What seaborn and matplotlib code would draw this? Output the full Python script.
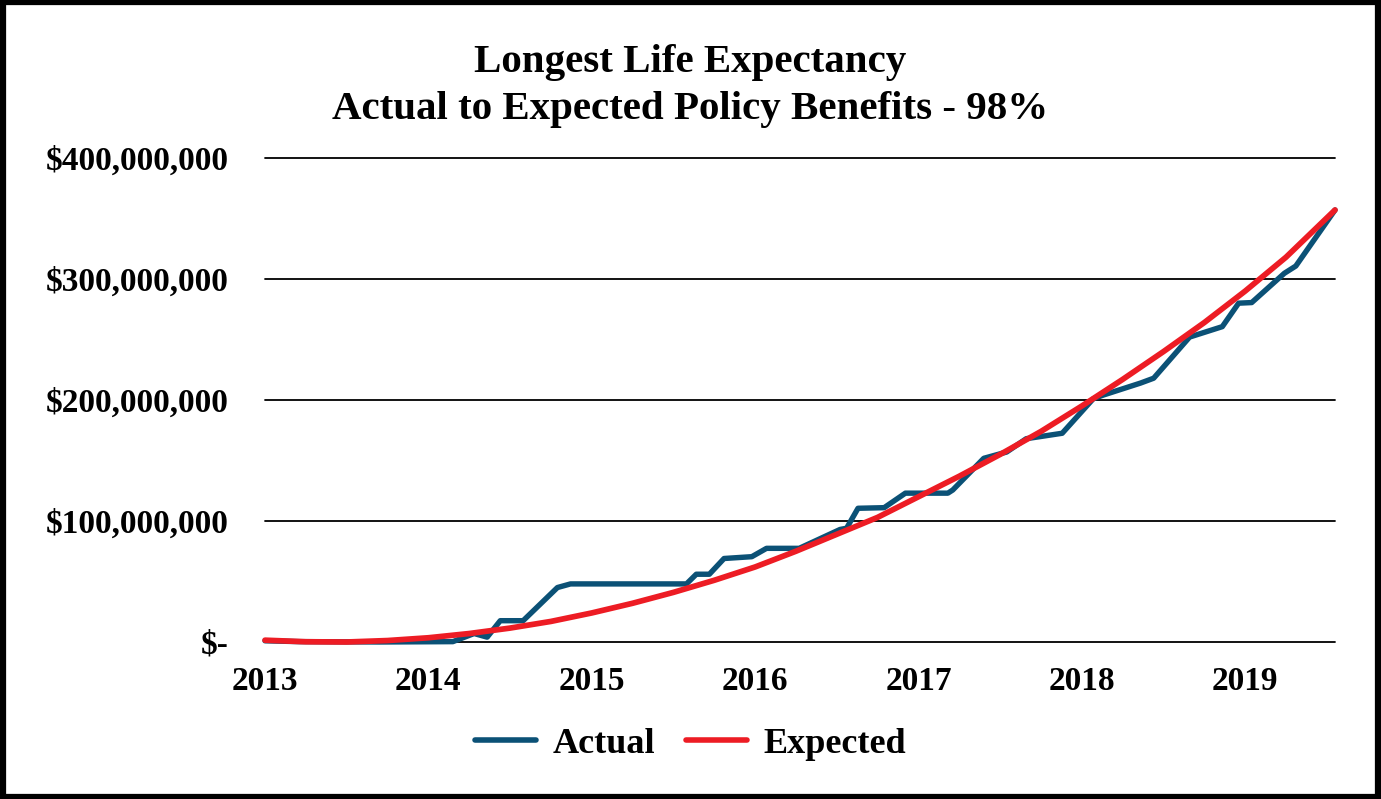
import matplotlib
matplotlib.use("Agg")
import matplotlib.pyplot as plt
import matplotlib.patches as mpatches
import seaborn as sns
import pandas as pd
from matplotlib.ticker import FuncFormatter

# ---- data (values in $ millions) ----
actual_years = [2013.00, 2013.21, 2013.70, 2014.15, 2014.28, 2014.36, 2014.44, 2014.58,
                2014.79, 2014.87, 2015.58, 2015.64, 2015.72, 2015.81, 2015.98, 2016.07,
                2016.27, 2016.52, 2016.56, 2016.63, 2016.79, 2016.92, 2017.18, 2017.21,
                2017.40, 2017.54, 2017.66, 2017.88, 2018.07, 2018.13, 2018.36, 2018.44,
                2018.66, 2018.86, 2018.96, 2019.04, 2019.24, 2019.31, 2019.55]
actual_vals = [1.0, 0.3, 0.0, 0.3, 7.0, 4.0, 17.6, 17.6,
               45.0, 48.0, 48.0, 56.0, 56.0, 69.0, 70.5, 77.4,
               77.4, 93.0, 94.0, 110.5, 111.0, 123.0, 123.0, 125.6,
               151.8, 157.0, 168.0, 172.5, 201.0, 204.0, 214.0, 218.0,
               252.0, 260.6, 280.0, 280.5, 304.7, 310.7, 357.0]

expected_years = [2013.00, 2013.25, 2013.50, 2013.75, 2014.00, 2014.25, 2014.50, 2014.75,
                  2015.00, 2015.25, 2015.50, 2015.75, 2016.00, 2016.25, 2016.50, 2016.75,
                  2017.00, 2017.25, 2017.50, 2017.75, 2018.00, 2018.25, 2018.50, 2018.75,
                  2019.00, 2019.25, 2019.55]
expected_vals = [1.5, 0.2, 0.0, 1.2, 3.5, 7.0, 11.5, 17.0,
                 24.0, 32.0, 41.0, 51.0, 62.0, 75.0, 89.0, 103.0,
                 120.0, 137.0, 155.0, 174.0, 195.0, 217.0, 240.0, 264.0,
                 290.0, 318.0, 357.0]

year_ticks = [2013, 2014, 2015, 2016, 2017, 2018, 2019]
y_ticks = [0, 100, 200, 300, 400]
series_names = ["Actual", "Expected"]
colors = ["#0b5176", "#ed1c24"]

title_lines = ["Longest Life Expectancy", "Actual to Expected Policy Benefits - 98%"]

df = pd.concat([
    pd.DataFrame({"year": actual_years, "value": actual_vals, "series": "Actual"}),
    pd.DataFrame({"year": expected_years, "value": expected_vals, "series": "Expected"}),
], ignore_index=True)

sns.set_theme(style="white")
plt.rcParams["font.family"] = ["Liberation Serif", "DejaVu Serif"]
plt.rcParams["font.weight"] = "bold"
plt.rcParams["text.color"] = "black"
plt.rcParams["xtick.color"] = "black"
plt.rcParams["ytick.color"] = "black"

fig = plt.figure(figsize=(13.81, 7.99), dpi=100)
ax = fig.add_axes([0.1919, 0.1965, 0.7748, 0.6058])

sns.lineplot(data=df, x="year", y="value", hue="series", hue_order=series_names,
             palette=colors, estimator=None, sort=True, ax=ax, legend=False)
for line, lw in zip(ax.get_lines(), [3.9, 4.1]):
    line.set_linewidth(lw)
    line.set_solid_capstyle("round")
    line.set_solid_joinstyle("round")
    line.set_clip_on(False)

ax.set_xlim(2013, 2019.55)
ax.set_ylim(0, 400)
ax.set_xticks(year_ticks)
ax.set_xticklabels([str(y) for y in year_ticks])
ax.set_yticks(y_ticks)

def fmt(v, pos):
    if v == 0:
        return "$-"
    return "${:,.0f}".format(v * 1e6)

ax.yaxis.set_major_formatter(FuncFormatter(fmt))
ax.grid(axis="y", color="black", linewidth=1.3)
ax.grid(axis="x", visible=False)
for gl in ax.get_ygridlines():
    gl.set_clip_on(False)
ax.set_axisbelow(True)
for s in ["top", "right", "left", "bottom"]:
    ax.spines[s].set_visible(False)
ax.set_xlabel("")
ax.set_ylabel("")
ax.tick_params(axis="y", length=0, pad=26, labelsize=24, labelcolor="black")
ax.tick_params(axis="x", length=0, pad=17, labelsize=24, labelcolor="black")
for lbl in ax.get_xticklabels() + ax.get_yticklabels():
    lbl.set_fontweight("bold")

fig.text(0.5, 0.922, title_lines[0], ha="center", va="center", fontsize=29.5,
         fontweight="bold", color="black")
fig.text(0.5, 0.863, title_lines[1], ha="center", va="center", fontsize=29.5,
         fontweight="bold", color="black")

handles = [plt.Line2D([0], [0], color=c, lw=4, solid_capstyle="round") for c in colors]
fig.legend(handles, series_names, loc="center", bbox_to_anchor=(0.5, 0.069), ncol=2,
           frameon=False, prop={"size": 26, "weight": "bold"}, handlelength=1.7,
           columnspacing=0.85, handletextpad=0.45)

fig.patches.append(mpatches.Rectangle((0.002, 0.003), 0.996, 0.994, transform=fig.transFigure,
                                      fill=False, edgecolor="black", linewidth=4.5))

fig.savefig("out.png", dpi=100)
